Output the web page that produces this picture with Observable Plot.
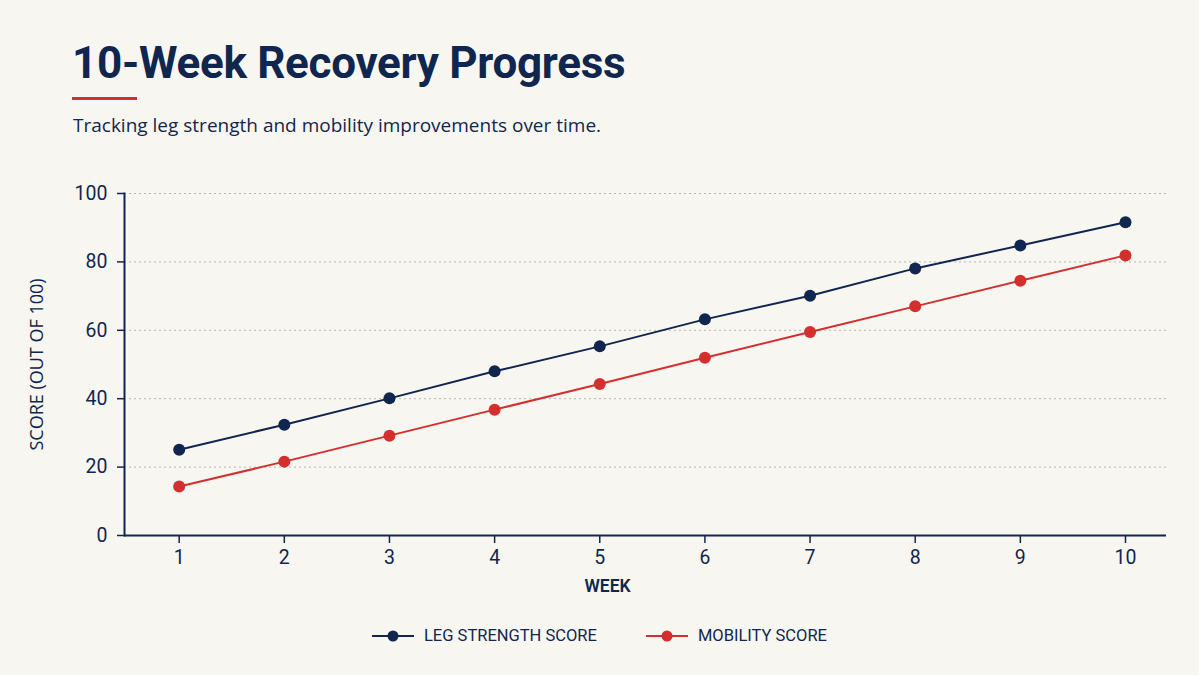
<!DOCTYPE html>
<html>
<head>
<meta charset="utf-8">
<script src="https://cdn.jsdelivr.net/npm/d3@7"></script>
<script src="https://cdn.jsdelivr.net/npm/@observablehq/plot@0.6"></script>
<style>
  html, body { margin: 0; padding: 0; background: #f8f6f1; }
  #wrap { position: relative; width: 1199px; height: 675px; background: #f8f6f1; overflow: hidden; font-family: Roboto, "Open Sans", sans-serif; color: #10264f; }
  #title { position: absolute; left: 72px; top: 41px; font-size: 44px; line-height: 44px; font-weight: 700; letter-spacing: -0.3px; white-space: nowrap; }
  #rule { position: absolute; left: 72px; top: 97px; width: 65px; height: 3px; background: #d32f2f; }
  #subtitle { position: absolute; left: 73px; top: 116px; font-family: "Open Sans", sans-serif; font-size: 19px; line-height: 19px; white-space: nowrap; }
  #chart { position: absolute; left: 0; top: 170px; }
  #legend { position: absolute; left: 0; top: 626px; width: 1199px; display: flex; justify-content: center; gap: 49px; font-size: 16.5px; line-height: 20px; }
  .item { display: flex; align-items: center; gap: 10px; white-space: nowrap; }
</style>
</head>
<body>
<div id="wrap">
  <div id="title"></div>
  <div id="rule"></div>
  <div id="subtitle"></div>
  <div id="chart"></div>
  <div id="legend"></div>
</div>
<script>
// Weekly scores (out of 100)
const weeks = [1, 2, 3, 4, 5, 6, 7, 8, 9, 10];
const legStrength = [25.1, 32.4, 40.1, 48.0, 55.3, 63.2, 70.1, 78.1, 84.8, 91.6];
const mobility = [14.3, 21.6, 29.2, 36.8, 44.3, 52.0, 59.5, 67.0, 74.5, 81.9];
const yTicks = [0, 20, 40, 60, 80, 100];
const seriesNames = ["LEG STRENGTH SCORE", "MOBILITY SCORE"];
const seriesColors = ["#10264f", "#d32f2f"];

const titleText = "10-Week Recovery Progress";
const subtitleText = "Tracking leg strength and mobility improvements over time.";
const xLabel = "WEEK";
const yLabel = "SCORE (OUT OF 100)";

const navy = "#10264f";

document.getElementById("title").textContent = titleText;
document.getElementById("subtitle").textContent = subtitleText;

const rows = weeks.flatMap((w, i) => [
  {week: w, score: legStrength[i], series: seriesNames[0]},
  {week: w, score: mobility[i], series: seriesNames[1]}
]);

const chart = Plot.plot({
  width: 1199,
  height: 440,
  marginTop: 23,
  marginBottom: 75,
  marginLeft: 124,
  marginRight: 33,
  style: {background: "transparent", fontFamily: "Roboto, sans-serif", color: navy},
  x: {domain: [0.48, 10.39]},
  y: {domain: [0, 100]},
  color: {domain: seriesNames, range: seriesColors},
  marks: [
    Plot.gridY(yTicks, {stroke: "#b9b6b0", strokeOpacity: 1, strokeDasharray: "2,3", strokeWidth: 1}),
    Plot.axisY({ticks: yTicks, tickSize: 7, tickPadding: 10, fontSize: 19.5, label: null, stroke: navy, strokeWidth: 1.5}),
    Plot.axisX({ticks: weeks, tickSize: 8, tickPadding: 7, fontSize: 19.5, label: null, stroke: navy, strokeWidth: 1.5, tickFormat: d => String(d)}),
    Plot.frame({anchor: "left", stroke: navy, strokeWidth: 2}),
    Plot.ruleY([0], {stroke: navy, strokeWidth: 2}),
    Plot.line(rows, {x: "week", y: "score", z: "series", stroke: "series", strokeWidth: 2}),
    Plot.dot(rows, {x: "week", y: "score", fill: "series", r: 6}),
    Plot.text([xLabel], {frameAnchor: "bottom", dx: -38, dy: 56, fontSize: 17.5, fontWeight: 600, fill: navy}),
    Plot.text([yLabel], {frameAnchor: "left", textAnchor: "middle", rotate: -90, dx: -87, fontSize: 18, fill: navy, fontFamily: "Open Sans, sans-serif", letterSpacing: "0.9px"})
  ]
});
document.getElementById("chart").appendChild(chart);

// Legend drawn from the same series names and colours
const legend = document.getElementById("legend");
seriesNames.forEach((name, i) => {
  const item = document.createElement("div");
  item.className = "item";
  item.innerHTML = `<svg width="42" height="14"><line x1="0" x2="42" y1="7" y2="7" stroke="${seriesColors[i]}" stroke-width="2"/><circle cx="21" cy="7" r="5.5" fill="${seriesColors[i]}"/></svg><span>${name}</span>`;
  legend.appendChild(item);
});
</script>
</body>
</html>
